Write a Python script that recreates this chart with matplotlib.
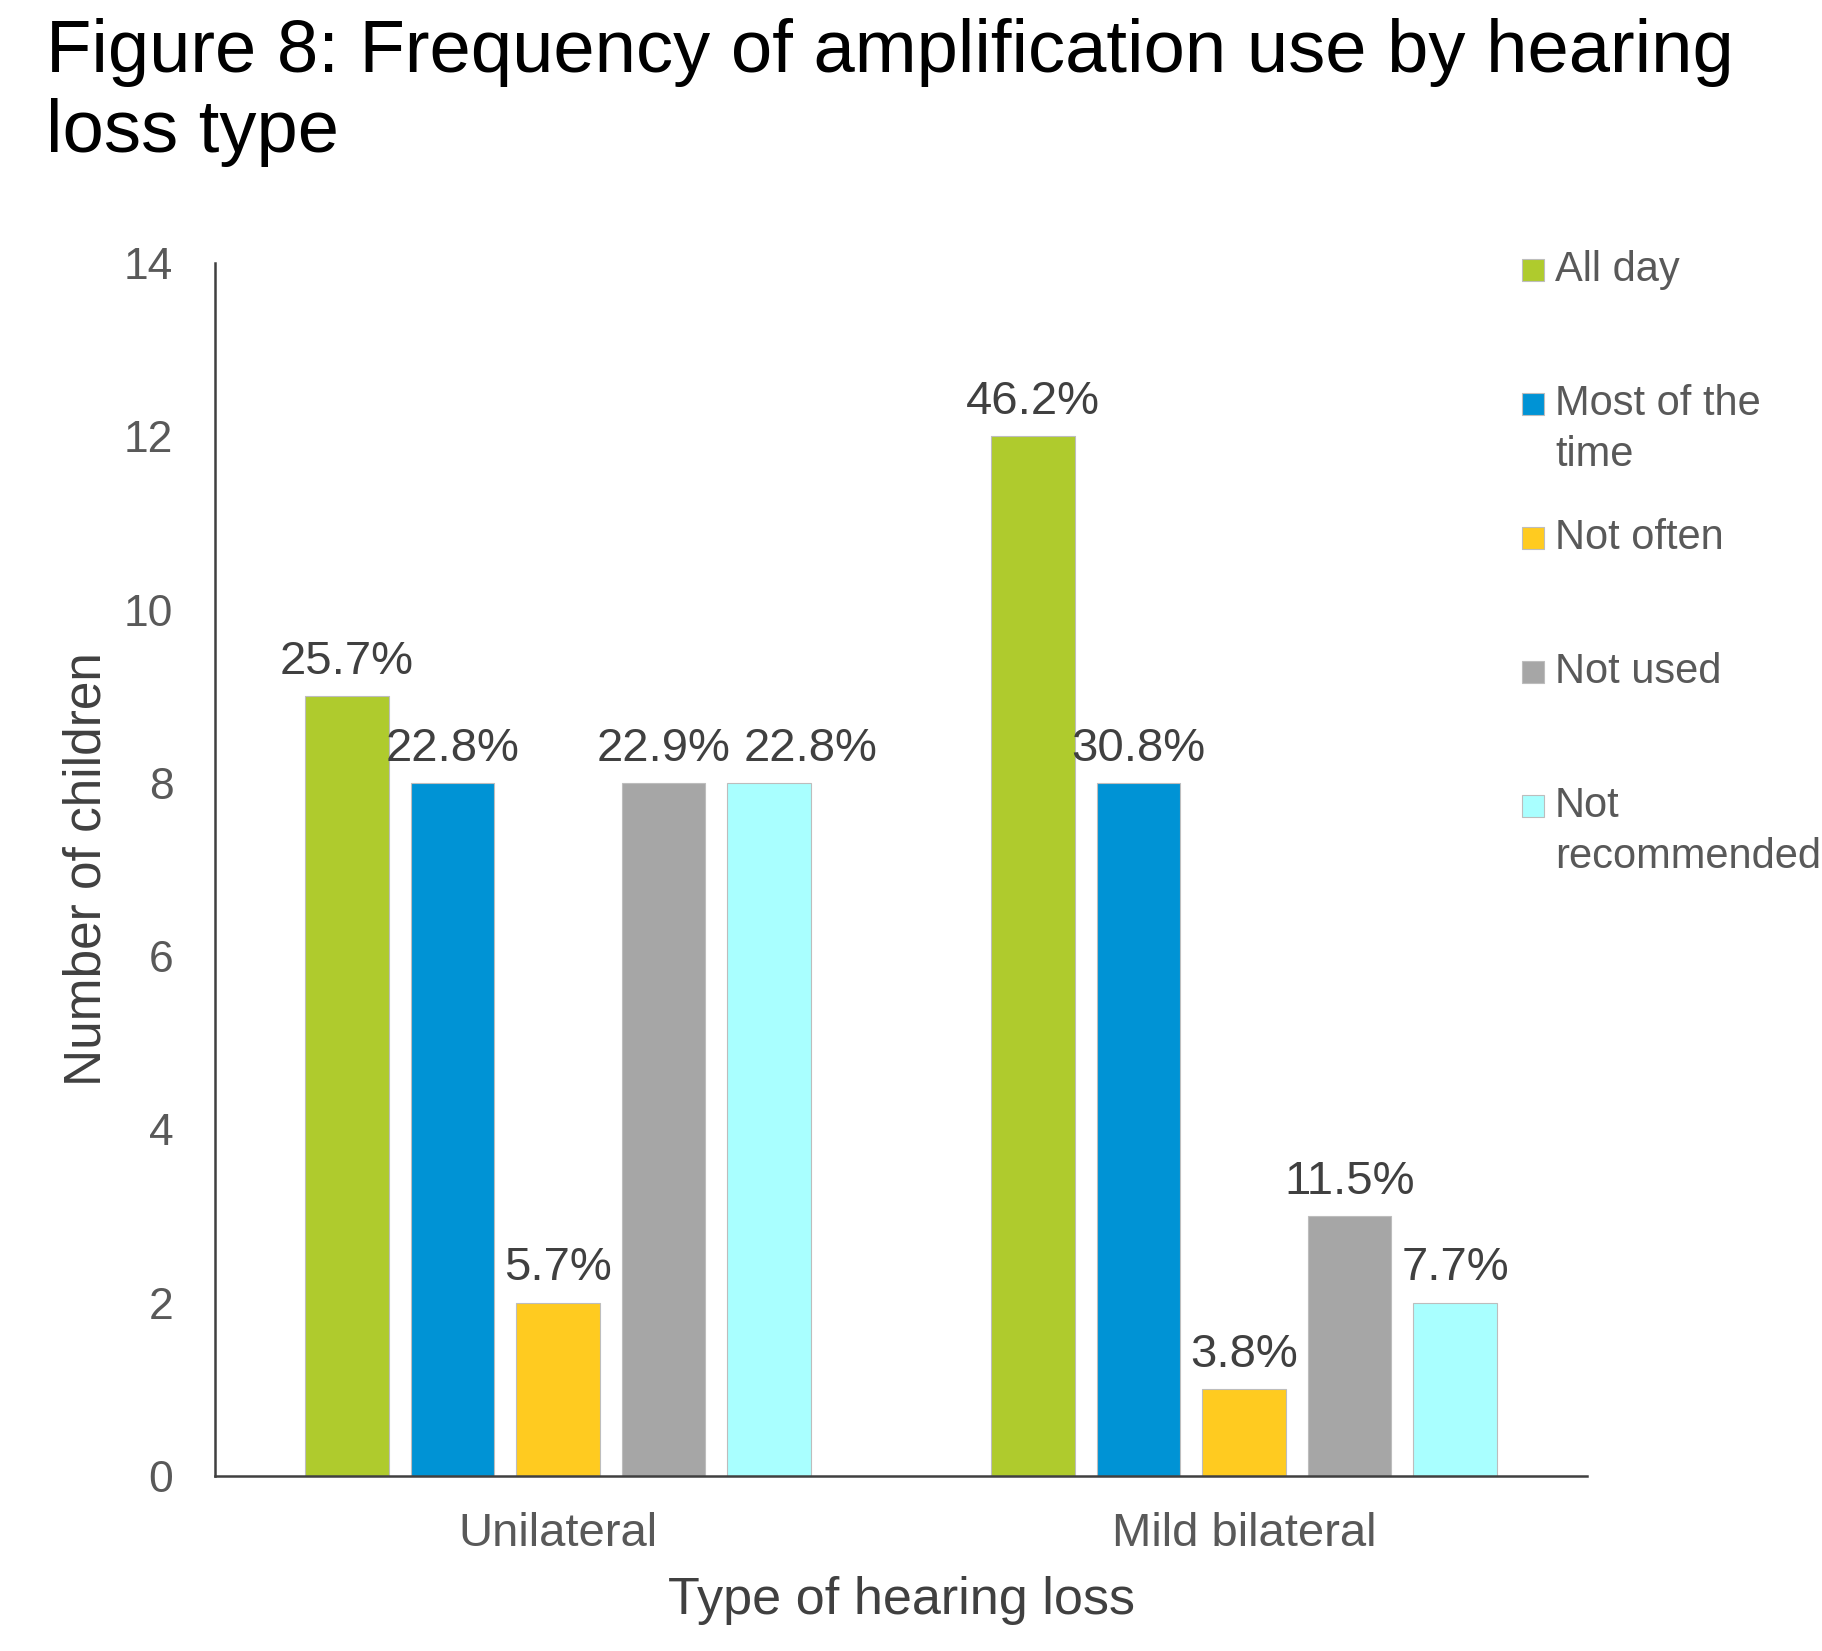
import matplotlib
matplotlib.use("Agg")
import matplotlib.pyplot as plt
from matplotlib.patches import Rectangle

plt.rcParams['font.family'] = ['Liberation Sans', 'DejaVu Sans']

categories = ["Unilateral", "Mild bilateral"]
series = ["All day", "Most of the\ntime", "Not often", "Not used", "Not\nrecommended"]
values = [
    [9, 12],   # All day
    [8, 8],    # Most of the time
    [2, 1],    # Not often
    [8, 3],    # Not used
    [8, 2],    # Not recommended
]
pct_labels = [
    ["25.7%", "46.2%"],
    ["22.8%", "30.8%"],
    ["5.7%", "3.8%"],
    ["22.9%", "11.5%"],
    ["22.8%", "7.7%"],
]
colors = ["#AFCB2D", "#0093D5", "#FFCB20", "#A6A6A6", "#A9FFFF"]
yticks = [0, 2, 4, 6, 8, 10, 12, 14]

W, H = 1822, 1651
fig = plt.figure(figsize=(W / 100, H / 100), dpi=100)
ax = fig.add_axes([215 / W, 1 - 1476 / H, (1587 - 215) / W, (1476 - 263) / H])

slot = 0.1538
bw = 0.1224
for j, (name, vals, col) in enumerate(zip(series, values, colors)):
    xs = [i + (j - 2) * slot for i in range(len(categories))]
    ax.bar(xs, vals, width=bw, color=col, edgecolor="#BDBDBD", linewidth=0.8, zorder=2)
    for i, (x, v, lab) in enumerate(zip(xs, vals, pct_labels[j])):
        dx = 30 if (j == 4 and i == 0) else 0
        ax.annotate(lab, (x, v), xytext=(dx, 16), textcoords="offset points",
                    ha="center", va="baseline", fontsize=34, color="#404040", zorder=3)

ax.set_xlim(-0.5, 1.5)
ax.set_ylim(0, 14)
ax.set_yticks(yticks)
ax.set_xticks(range(len(categories)))
ax.set_xticklabels(categories)
ax.tick_params(axis="both", length=0, labelcolor="#595959")
ax.tick_params(axis="y", pad=30, labelsize=32)
ax.tick_params(axis="x", pad=26, labelsize=34)
for s in ["top", "right"]:
    ax.spines[s].set_visible(False)
for s in ["left", "bottom"]:
    ax.spines[s].set_color("#404040")
    ax.spines[s].set_linewidth(1.8)

ax.set_xlabel("Type of hearing loss", fontsize=37.5, color="#404040", labelpad=14)
ax.set_ylabel("Number of children", fontsize=37, color="#404040", labelpad=9)

fig.text(46 / W, 1 - 18 / H, "Figure 8: Frequency of amplification use by hearing\nloss type",
         ha="left", va="top", fontsize=53.5, color="#000000", linespacing=1.2)

# legend (fixed-slot layout like the original)
leg_y0 = 270
leg_step = 134
for j, (name, col) in enumerate(zip(series, colors)):
    yc = leg_y0 + j * leg_step
    fig.add_artist(Rectangle((1522 / W, 1 - (yc + 11) / H), 22 / W, 22 / H,
                             transform=fig.transFigure, facecolor=col,
                             edgecolor="#BDBDBD", linewidth=0.8))
    fig.text(1555 / W, 1 - (yc - 20) / H, name, ha="left", va="top",
             fontsize=30, color="#595959", linespacing=1.35)

fig.savefig("out.png", dpi=100)
